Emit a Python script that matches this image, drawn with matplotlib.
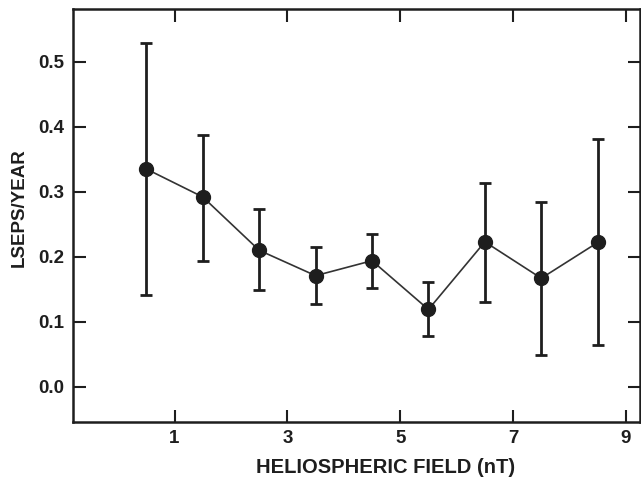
import numpy as np
import matplotlib.pyplot as plt

# 数据
field = [0.5, 1.5, 2.5, 3.5, 4.5, 5.5, 6.5, 7.5, 8.5]
rate = [0.335, 0.292, 0.210, 0.171, 0.194, 0.119, 0.223, 0.167, 0.222]
err_hi = [0.528, 0.388, 0.273, 0.215, 0.235, 0.161, 0.313, 0.285, 0.381]
err_lo = [0.142, 0.193, 0.149, 0.127, 0.152, 0.078, 0.131, 0.049, 0.065]
x_ticks = [1, 3, 5, 7, 9]
y_ticks = [0.0, 0.1, 0.2, 0.3, 0.4, 0.5]

plt.rcParams['font.family'] = ['Liberation Sans', 'DejaVu Sans']
ink = '#1e1e1e'

rate = np.array(rate)
yerr = [rate - np.array(err_lo), np.array(err_hi) - rate]

fig = plt.figure(figsize=(6.41, 4.79), dpi=100)
ax = fig.add_axes([73 / 641, 1 - 422 / 479, (640 - 73) / 641, (422 - 9) / 479])

ax.plot(field, rate, color='#333333', lw=1.2, zorder=2)
ax.errorbar(field, rate, yerr=yerr, fmt='o', color=ink, ms=10,
            elinewidth=2, capsize=4.5, capthick=2, zorder=3)

ax.set_xlim(-0.8, 9.25)
ax.set_ylim(-0.054, 0.581)
ax.set_xticks(x_ticks)
ax.set_yticks(y_ticks)
ax.set_yticklabels([f'{v:.1f}' for v in y_ticks])

for s in ax.spines.values():
    s.set_linewidth(1.8)
    s.set_color(ink)

ax.tick_params(direction='in', length=9, width=1.5, color=ink,
               top=True, right=True, labelsize=13.5)
ax.tick_params(axis='x', pad=6)
ax.tick_params(axis='y', pad=6)
for lab in ax.get_xticklabels() + ax.get_yticklabels():
    lab.set_fontweight('bold')
    lab.set_color(ink)

ax.set_xlabel('HELIOSPHERIC FIELD (nT)', fontsize=14.5, fontweight='bold',
              color=ink)
ax.set_ylabel('LSEPS/YEAR', fontsize=13.5, fontweight='bold', color=ink)
ax.xaxis.set_label_coords(0.552, -0.088)
ax.yaxis.set_label_coords(-0.08, 0.52)

plt.savefig('out.png', dpi=100)
